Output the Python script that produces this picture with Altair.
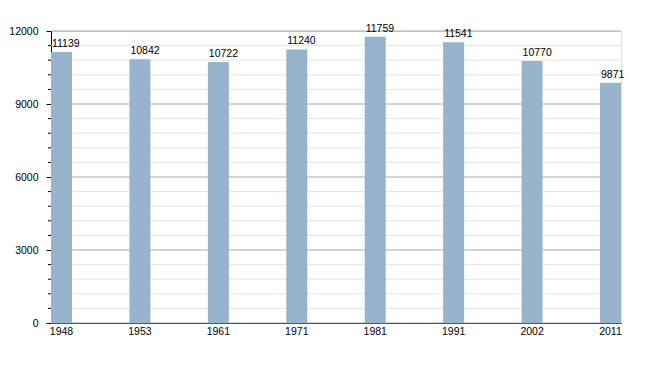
import altair as alt
import pandas as pd

years = ["1948", "1953", "1961", "1971", "1981", "1991", "2002", "2011"]
population = [11139, 10842, 10722, 11240, 11759, 11541, 10770, 9871]
major_ticks = [0, 3000, 6000, 9000, 12000]
minor_ticks = [v for v in range(0, 12001, 600) if v % 3000 != 0]

df = pd.DataFrame({"year": years, "pop": population})
df_major = pd.DataFrame({"pop": major_ticks})
df_minor = pd.DataFrame({"pop": minor_ticks})

FONT = "Liberation Sans"
FS = 10.5

yscale = alt.Scale(domain=[0, 12000], nice=False)
yaxis = alt.Axis(values=major_ticks, grid=False, labelOverlap=False, format="d",
                 tickSize=5, tickColor="#000000", domainColor="#000000",
                 labelFont=FONT, labelFontSize=FS,
                 labelColor="#000000", labelPadding=8)

xscale = alt.Scale(paddingInner=0.732, paddingOuter=0)
x = alt.X("year:N", sort=years, title=None, scale=xscale,
          axis=alt.Axis(labelAngle=0, ticks=False, domainColor="#000000",
                        labelFont=FONT, labelFontSize=FS,
                        labelColor="#000000", labelPadding=3, grid=False))

def ych():
    return alt.Y("pop:Q", title=None, scale=yscale, axis=yaxis)

minor_grid = alt.Chart(df_minor).mark_rule(color="#e4e4e4", strokeWidth=1).encode(
    y=ych(), x=alt.value(0), x2=alt.value(570))
major_grid = alt.Chart(df_major).mark_rule(color="#a8a8a8", strokeWidth=1).encode(
    y=ych(), x=alt.value(0), x2=alt.value(570))
minor_tick = alt.Chart(df_minor).mark_rule(color="#000000", strokeWidth=1).encode(
    y=ych(), x=alt.value(-3), x2=alt.value(0))

bars = alt.Chart(df).mark_bar(color="#98b3cc").encode(x=x, y=ych())
text = alt.Chart(df).mark_text(align="left", baseline="alphabetic", dx=1, dy=-5,
                               font=FONT, fontSize=FS, color="#000000").encode(
    x=alt.X("year:N", sort=years, scale=xscale, bandPosition=0),
    y=ych(), text="pop:Q")

chart = alt.layer(minor_grid, major_grid, minor_tick, bars, text).properties(
    width=570, height=292,
    autosize=alt.AutoSizeParams(type="none"),
    padding={"left": 51, "top": 31, "right": 29, "bottom": 50},
).configure_view(stroke=None).configure(background="#ffffff")

chart.save("out.html", embed_options={"renderer": "svg", "actions": False})
